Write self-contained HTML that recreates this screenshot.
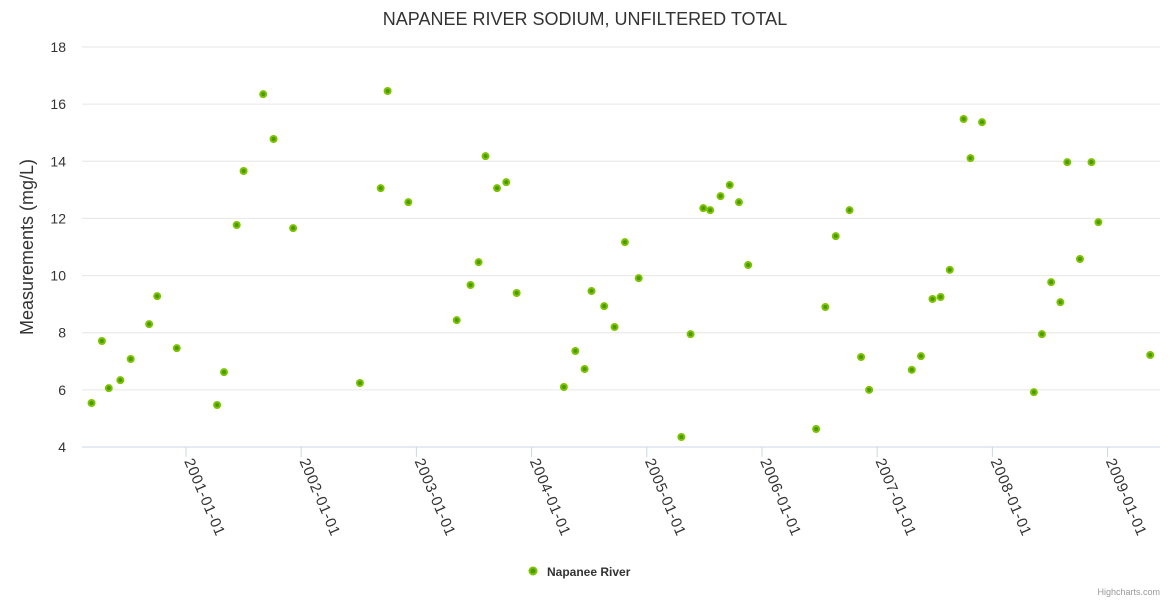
<!DOCTYPE html>
<html><head><meta charset="utf-8"><style>
body{margin:0;background:#fff;font-family:"Liberation Sans",sans-serif}
svg text{font-family:"Liberation Sans",sans-serif}
</style></head><body>
<svg id="c" width="1170" height="600">
<rect width="1170" height="600" fill="#fff"/>
<text x="585" y="25" text-anchor="middle" font-size="18" fill="#333">NAPANEE RIVER SODIUM, UNFILTERED TOTAL</text>
<g id="grid"></g><g id="xaxis"></g><g id="pts"></g>
<text transform="translate(33,247) rotate(-90)" text-anchor="middle" font-size="18" fill="#333">Measurements (mg/L)</text>
<g>
<circle cx="533" cy="571" r="3.5" fill="#4a9a00" stroke="#7cc300" stroke-width="2"/>
<text x="547" y="576" font-size="12" font-weight="bold" fill="#333">Napanee River</text>
</g>
<text x="1160" y="595" text-anchor="end" font-size="9" fill="#999">Highcharts.com</text>
</svg>
<script>
const years=[2000.18,2000.27,2000.33,2000.43,2000.52,2000.68,2000.75,2000.92,2001.27,2001.33,2001.44,2001.50,2001.67,2001.76,2001.93,2002.51,2002.69,2002.75,2002.93,2003.35,2003.47,2003.54,2003.60,2003.70,2003.78,2003.87,2004.28,2004.38,2004.46,2004.52,2004.63,2004.72,2004.81,2004.93,2005.30,2005.38,2005.49,2005.55,2005.64,2005.72,2005.80,2005.88,2006.47,2006.55,2006.64,2006.76,2006.86,2006.93,2007.30,2007.38,2007.48,2007.55,2007.63,2007.75,2007.81,2007.91,2008.36,2008.43,2008.51,2008.59,2008.65,2008.76,2008.86,2008.92,2009.37];
const values=[5.54,7.71,6.06,6.34,7.08,8.30,9.28,7.46,5.47,6.62,11.77,13.66,16.35,14.78,11.66,6.24,13.06,16.46,12.57,8.44,9.67,10.47,14.18,13.06,13.27,9.39,6.1,7.36,6.73,9.46,8.93,8.2,11.17,9.91,4.35,7.95,12.36,12.29,12.78,13.17,12.57,10.37,4.63,8.9,11.38,12.29,7.15,6.0,6.7,7.18,9.18,9.25,10.2,15.48,14.11,15.37,5.92,7.95,9.77,9.07,13.97,10.58,13.97,11.87,7.22];
const yTicks=[4,6,8,10,12,14,16,18];
const xTicks=[2001,2002,2003,2004,2005,2006,2007,2008,2009];
const xTickLabels=["2001-01-01","2002-01-01","2003-01-01","2004-01-01","2005-01-01","2006-01-01","2007-01-01","2008-01-01","2009-01-01"];
const NS="http://www.w3.org/2000/svg";
const L=82,R=1160,T=47,B=447;
const X=v=>186+(v-2001)*115.2;
const Y=v=>B-(v-4)*(B-T)/14;
function mk(t,a,p){const e=document.createElementNS(NS,t);for(const k in a)e.setAttribute(k,a[k]);p.appendChild(e);return e;}
const g=document.getElementById('grid');
yTicks.forEach(v=>{
 const l=mk('line',{x1:L,x2:R,y1:Y(v),y2:Y(v),stroke:v===4?'#ccd6eb':'#e6e6e6','stroke-width':1},g);
 
 
 const t=mk('text',{x:66,y:Y(v)+5,'text-anchor':'end','font-size':14,fill:'#333'},g);
 t.textContent=v;
 
 
});
const xa=document.getElementById('xaxis');
xTicks.forEach((v,i)=>{
 const x=X(v);
 const l=mk('line',{x1:x,x2:x,y1:B,y2:B+10,stroke:'#ccd6eb'},xa);
 
 
 const t=mk('text',{transform:`translate(${x-2},${B+14}) rotate(67)`,'font-size':15,'letter-spacing':'0.6',fill:'#333'},xa);
 t.textContent=xTickLabels[i];
 
 
});
const p=document.getElementById('pts');
years.forEach((yr,i)=>{
 const c=mk('circle',{cx:X(yr),cy:Y(values[i]),r:3,fill:'#4a9a00',stroke:'#7cc300','stroke-width':2},p);
 
 
});
</script>
</body></html>
